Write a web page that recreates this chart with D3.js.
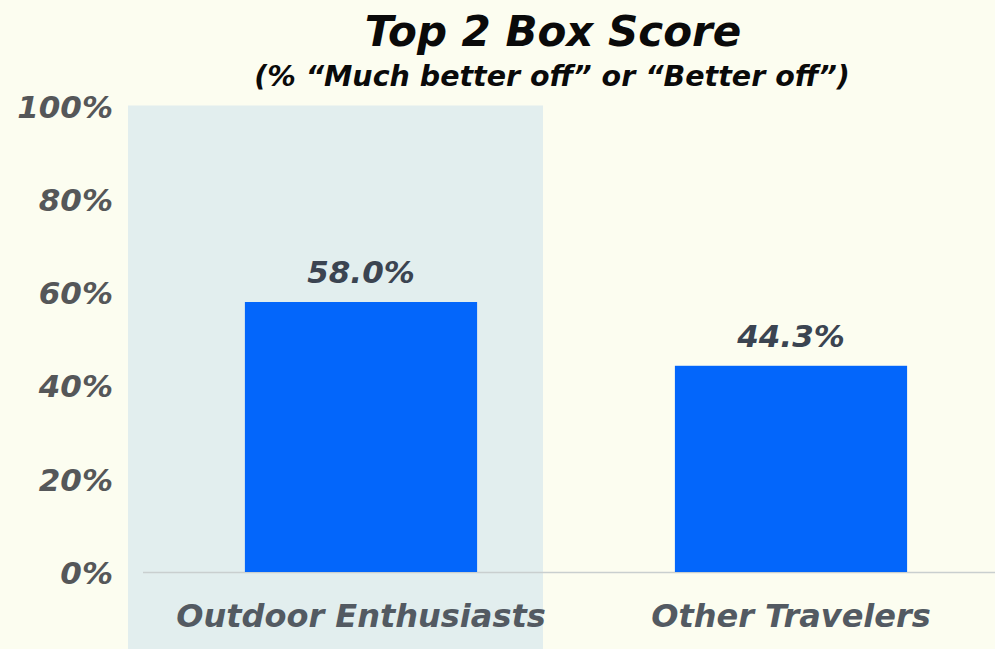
<!DOCTYPE html>
<html><head><meta charset="utf-8">
<script src="https://cdn.jsdelivr.net/npm/d3@7"></script>
<style>
html,body{margin:0;padding:0;background:#fcfdf0;}
svg{display:block;}
text{font-family:"DejaVu Sans",sans-serif;font-weight:bold;font-style:oblique;}
</style></head>
<body><svg id="c" width="995" height="649"></svg>
<script>
const categories = ["Outdoor Enthusiasts", "Other Travelers"];
const values = [58.0, 44.3];
const valueLabels = ["58.0%", "44.3%"];
const yTicks = [0, 20, 40, 60, 80, 100];
const highlighted = ["Outdoor Enthusiasts"];
const title = "Top 2 Box Score";
const subtitle = "(% \u201cMuch better off\u201d or \u201cBetter off\u201d)";

const W = 995, H = 649;
const svg = d3.select("#c");
svg.append("rect").attr("width", W).attr("height", H).attr("fill", "#fcfdf0");

const x = d3.scaleBand().domain(categories).range([146, 1006]).paddingInner(0.46).paddingOuter(0.23);
const y = d3.scaleLinear().domain([0, 100]).range([572, 106.5]);

// highlight band
svg.selectAll("rect.hl").data(highlighted).enter().append("rect")
  .attr("class", "hl")
  .attr("x", d => x(d) + x.bandwidth() / 2 - 233)
  .attr("width", 415)
  .attr("y", y(100) - 1)
  .attr("height", H - y(100) + 1)
  .attr("fill", "#e2eeee");

// baseline
svg.append("line").attr("x1", 143).attr("x2", W).attr("y1", y(0) + 0.5).attr("y2", y(0) + 0.5)
  .attr("stroke", "#c9cfcf").attr("stroke-width", 1.5);

// bars
svg.selectAll("rect.bar").data(categories).enter().append("rect")
  .attr("class", "bar")
  .attr("x", d => x(d))
  .attr("width", x.bandwidth())
  .attr("y", (d, i) => y(values[i]))
  .attr("height", (d, i) => y(0) - y(values[i]))
  .attr("fill", "#0366fb");

// value labels
svg.selectAll("text.val").data(categories).enter().append("text")
  .attr("class", "val")
  .attr("x", d => x(d) + x.bandwidth() / 2)
  .attr("y", (d, i) => y(values[i]) - 19)
  .attr("text-anchor", "middle")
  .attr("font-size", 31)
  .attr("fill", "#3b4451")
  .text((d, i) => valueLabels[i]);

// y axis
const yAxis = d3.axisLeft(y).tickValues(yTicks).tickFormat(d => d + "%").tickSize(0).tickPadding(0);
const gy = svg.append("g").attr("transform", "translate(113,0)").call(yAxis);
gy.select(".domain").remove();
gy.selectAll("text").attr("font-size", 31).attr("fill", "#555759")
  .attr("font-family", "DejaVu Sans").attr("dy", "0.36em");

// x axis labels
const xAxis = d3.axisBottom(x).tickSize(0).tickPadding(0);
const gx = svg.append("g").attr("transform", `translate(0,${y(0)})`).call(xAxis);
gx.select(".domain").remove();
gx.selectAll("text").attr("font-size", 32).attr("fill", "#535a62")
  .attr("font-family", "DejaVu Sans").attr("dy", null).attr("y", 55);

// titles
svg.append("text").attr("x", 553).attr("y", 46).attr("text-anchor", "middle")
  .attr("font-size", 42).attr("fill", "#0a0a0a").text(title);
svg.append("text").attr("x", 552).attr("y", 86).attr("text-anchor", "middle")
  .attr("font-size", 28.5).attr("fill", "#0a0a0a").text(subtitle);
</script></body></html>
